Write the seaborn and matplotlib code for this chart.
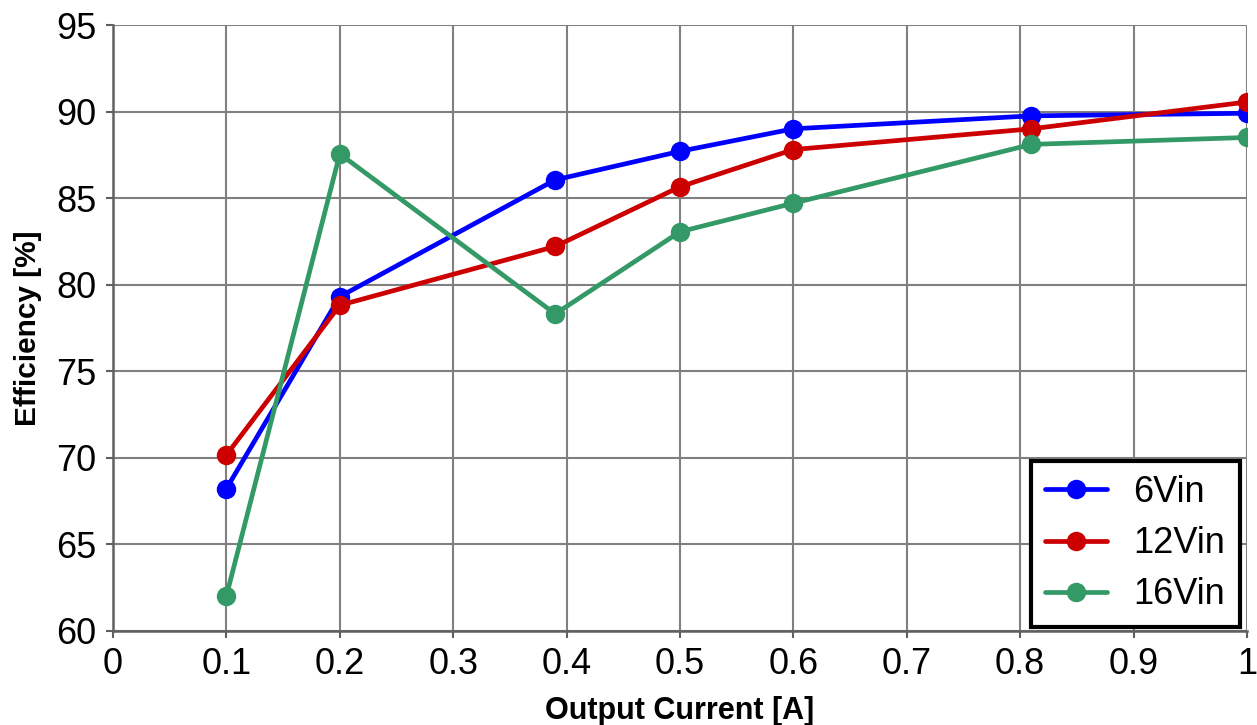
import pandas as pd
import matplotlib
matplotlib.use("Agg")
import matplotlib.pyplot as plt
import seaborn as sns

# data
current = [0.1, 0.2, 0.39, 0.5, 0.6, 0.81, 1.0]
eff_6vin = [68.2, 79.3, 86.05, 87.7, 89.0, 89.75, 89.9]
eff_12vin = [70.15, 78.8, 82.2, 85.65, 87.8, 89.0, 90.55]
eff_16vin = [62.0, 87.55, 78.3, 83.05, 84.7, 88.1, 88.5]
series_names = ["6Vin", "12Vin", "16Vin"]
colors = ["#0000FF", "#CC0000", "#339966"]

df = pd.DataFrame({
    "current": current * 3,
    "eff": eff_6vin + eff_12vin + eff_16vin,
    "series": [s for s in series_names for _ in current],
})

sns.set_style("white")
plt.rcParams["font.family"] = ["Liberation Sans", "DejaVu Sans"]
plt.rcParams["text.color"] = "black"
plt.rcParams["axes.labelcolor"] = "black"

fig = plt.figure(figsize=(12.57, 7.25), dpi=100)
ax = fig.add_axes([0.0899, 0.1303, 0.9021, 0.8352])

sns.lineplot(data=df, x="current", y="eff", hue="series", hue_order=series_names,
             palette=colors, marker="o", markersize=14, markeredgewidth=0,
             linewidth=3.4, ax=ax, zorder=3)

ax.set_xlim(0, 1)
ax.set_ylim(60, 95)
ax.set_xticks([i / 10 for i in range(11)])
ax.set_xticklabels(["0", "0.1", "0.2", "0.3", "0.4", "0.5", "0.6", "0.7", "0.8", "0.9", "1"])
ax.set_yticks(range(60, 96, 5))
ax.grid(True, color="#808080", linewidth=1.5)
ax.set_axisbelow(True)

for side in ["top", "right"]:
    ax.spines[side].set_visible(False)
for side in ["left", "bottom"]:
    ax.spines[side].set_color("#606060")
    ax.spines[side].set_linewidth(1.8)

ax.tick_params(axis="both", labelsize=26, length=5, width=1.5, color="#606060",
               labelcolor="black", direction="out", pad=7, bottom=True, left=True)

ax.set_xlabel("Output Current [A]", fontsize=22, fontweight="bold", labelpad=10)
ax.set_ylabel("Efficiency [%]", fontsize=21.5, fontweight="bold", labelpad=10)

leg = ax.legend(loc="lower right", fontsize=26, frameon=True, fancybox=False,
                borderpad=0.4, handlelength=1.7, handletextpad=0.75,
                labelspacing=0.45, borderaxespad=0.1,
                bbox_to_anchor=(0.997, 0.0))
leg.get_frame().set_edgecolor("black")
leg.get_frame().set_linewidth(3)
leg.get_frame().set_alpha(1)

fig.savefig("out.png", dpi=100)
